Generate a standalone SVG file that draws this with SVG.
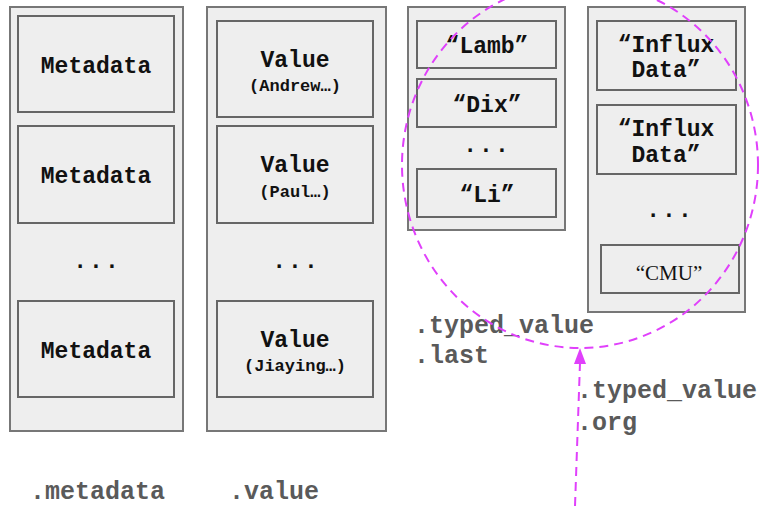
<svg xmlns="http://www.w3.org/2000/svg" width="765" height="506" viewBox="0 0 765 506">
<defs>
<style>
.outer{fill:#eeeeee;stroke:#777;stroke-width:2}
.box{fill:#eeeeee;stroke:#666;stroke-width:2}
.t{font-family:"Liberation Mono","Courier New",monospace;font-weight:bold;fill:#111;font-size:23px;text-anchor:middle}
.s{font-size:17px}
.dots{letter-spacing:2px}
.serif{font-family:"Liberation Serif","Times New Roman",serif;font-weight:normal;font-size:21px;fill:#111;text-anchor:middle}
.lbl{font-family:"Liberation Mono","Courier New",monospace;font-weight:bold;fill:#5a5a5a;font-size:25px}
.mag{fill:none;stroke:#e040fb;stroke-width:2;stroke-dasharray:9 6}
</style>
</defs>

<g id="metadata-col">
<rect class="outer" x="10" y="7" width="173" height="424"/>
<rect class="box" x="18" y="16" width="156" height="96"/>
<text class="t" x="96" y="73">Metadata</text>
<rect class="box" x="18" y="126" width="156" height="97"/>
<text class="t" x="96" y="183">Metadata</text>
<text class="t dots" x="97" y="268">...</text>
<rect class="box" x="18" y="301" width="156" height="96"/>
<text class="t" x="96" y="358">Metadata</text>
</g>

<g id="value-col">
<rect class="outer" x="207" y="7" width="179" height="424"/>
<rect class="box" x="217" y="21" width="156" height="96"/>
<text class="t" x="295" y="67">Value</text>
<text class="t s" x="295" y="91">(Andrew…)</text>
<rect class="box" x="217" y="126" width="156" height="97"/>
<text class="t" x="295" y="172">Value</text>
<text class="t s" x="295" y="197">(Paul…)</text>
<text class="t dots" x="296" y="268">...</text>
<rect class="box" x="217" y="301" width="156" height="96"/>
<text class="t" x="295" y="347">Value</text>
<text class="t s" x="295" y="371">(Jiaying…)</text>
</g>

<g id="last-col">
<rect class="outer" x="408" y="7" width="157" height="223"/>
<rect class="box" x="417" y="21" width="139" height="47"/>
<text class="t" x="487" y="53">“Lamb”</text>
<rect class="box" x="417" y="79" width="139" height="48"/>
<text class="t" x="487" y="112">“Dix”</text>
<text class="t dots" x="487" y="152">...</text>
<rect class="box" x="417" y="169" width="139" height="48"/>
<text class="t" x="487" y="202">“Li”</text>
</g>

<g id="org-col">
<rect class="outer" x="588" y="7" width="157" height="305"/>
<rect class="box" x="597" y="21" width="139" height="69"/>
<text class="t" x="666" y="52">“Influx</text>
<text class="t" x="666" y="77">Data”</text>
<rect class="box" x="597" y="105" width="139" height="69"/>
<text class="t" x="666" y="136">“Influx</text>
<text class="t" x="666" y="162">Data”</text>
<text class="t dots" x="670" y="217">...</text>
<rect class="box" x="601" y="245" width="138" height="48"/>
<text class="serif" x="669" y="280">“CMU”</text>
</g>

<g id="labels">
<text class="lbl" x="414" y="333">.typed_value</text>
<text class="lbl" x="414" y="363">.last</text>
<text class="lbl" x="577" y="398">.typed_value</text>
<text class="lbl" x="577" y="430">.org</text>
<text class="lbl" x="30" y="499">.metadata</text>
<text class="lbl" x="229" y="499">.value</text>
</g>

<g id="connectors">
<ellipse class="mag" cx="580" cy="165" rx="178" ry="183"/>
<line class="mag" x1="575" y1="506" x2="580" y2="363"/>
<path d="M580,348 L586,364 L574,364 Z" fill="#e040fb"/>
</g>
</svg>
